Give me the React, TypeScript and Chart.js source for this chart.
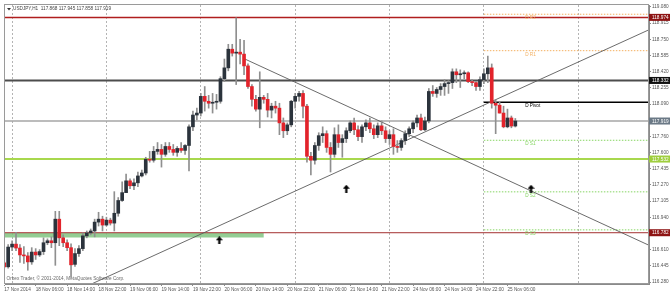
import React, { useEffect, useRef } from "react";
import { Chart, registerables } from "chart.js";

Chart.register(...registerables);

// ---- candle data (USDJPY H1, 17 Nov 22:00 .. 25 Nov 08:00) ----
const opens = [
  116.475, 116.435, 116.636, 116.666, 116.626, 116.556, 116.546, 116.485, 116.585, 116.556,
  116.59, 116.68, 116.70, 116.68, 116.92, 116.73, 116.68, 116.63, 116.46, 116.57,
  116.62, 116.75, 116.78, 116.80, 116.89, 116.92, 116.86, 116.91, 116.88, 116.98,
  117.11, 117.19, 117.31, 117.26, 117.29, 117.36, 117.39, 117.53, 117.52, 117.61,
  117.63, 117.58, 117.66, 117.63, 117.60, 117.64, 117.62, 117.67, 117.86, 117.98,
  118.00, 118.17, 118.12, 118.10, 118.11, 118.12, 118.35, 118.46, 118.65, 118.61,
  118.62, 118.60, 118.48, 118.27, 118.14, 118.04, 118.16, 118.14, 118.03, 118.07,
  118.05, 117.90, 117.82, 117.88, 118.12, 118.17, 118.20, 118.07, 117.56, 117.52,
  117.67, 117.77, 117.79, 117.65, 117.58, 117.78, 117.70, 117.74, 117.82, 117.90,
  117.83, 117.76, 117.86, 117.90, 117.84, 117.78, 117.87, 117.82, 117.74, 117.78,
  117.66, 117.65, 117.72, 117.79, 117.84, 117.90, 117.95, 117.83, 117.92, 118.22,
  118.20, 118.24, 118.27, 118.30, 118.31, 118.42, 118.39, 118.40, 118.41, 118.32,
  118.31, 118.27, 118.34, 118.40, 118.46, 118.10, 118.08, 118.00, 117.86, 117.95,
  117.868,
];
const highs = [
  116.49, 116.66, 116.70, 116.785, 116.66, 116.64, 116.58, 116.63, 116.62, 116.61,
  116.73, 116.72, 116.74, 117.00, 117.00, 116.76, 116.71, 116.67, 116.62, 116.65,
  116.78, 116.80, 116.82, 116.92, 116.99, 116.95, 116.94, 116.93, 117.20, 117.14,
  117.30, 117.38, 117.33, 117.33, 117.40, 117.42, 117.55, 117.61, 117.66, 117.70,
  117.68, 117.70, 117.70, 117.68, 117.66, 117.70, 117.68, 117.88, 118.02, 118.05,
  118.20, 118.27, 118.18, 118.20, 118.19, 118.37, 118.55, 118.70, 118.70, 118.97,
  118.75, 118.74, 118.50, 118.29, 118.18, 118.42, 118.18, 118.20, 118.10, 118.12,
  118.10, 117.95, 117.90, 118.13, 118.20, 118.22, 118.23, 118.09, 117.60, 117.70,
  117.80, 117.86, 117.82, 117.70, 117.85, 117.88, 117.78, 117.85, 117.92, 117.95,
  117.87, 117.88, 117.93, 117.95, 117.88, 117.90, 117.92, 117.86, 117.82, 117.84,
  117.72, 117.74, 117.82, 117.86, 117.92, 117.98, 117.99, 117.96, 118.25, 118.28,
  118.26, 118.30, 118.34, 118.33, 118.45, 118.45, 118.44, 118.43, 118.42, 118.34,
  118.32, 118.37, 118.45, 118.58, 118.50, 118.14, 118.12, 118.07, 118.04, 117.97,
  117.945,
];
const lows = [
  116.42, 116.42, 116.60, 116.60, 116.48, 116.47, 116.40, 116.46, 116.51, 116.54,
  116.56, 116.66, 116.63, 116.45, 116.65, 116.64, 116.60, 116.33, 116.44, 116.54,
  116.60, 116.73, 116.76, 116.74, 116.85, 116.80, 116.85, 116.86, 116.80, 116.95,
  117.10, 117.19, 117.23, 117.22, 117.25, 117.35, 117.37, 117.50, 117.50, 117.58,
  117.45, 117.56, 117.60, 117.57, 117.56, 117.60, 117.58, 117.41, 117.82, 117.93,
  117.97, 118.02, 118.05, 118.00, 118.04, 118.10, 118.32, 118.43, 118.58, 118.29,
  118.50, 118.39, 118.25, 118.07, 118.02, 117.85, 118.10, 117.96, 117.95, 118.00,
  117.78, 117.75, 117.78, 117.86, 118.05, 118.12, 117.95, 117.50, 117.37, 117.48,
  117.62, 117.70, 117.60, 117.40, 117.55, 117.65, 117.55, 117.70, 117.80, 117.78,
  117.72, 117.70, 117.82, 117.80, 117.74, 117.75, 117.78, 117.70, 117.68, 117.58,
  117.60, 117.62, 117.68, 117.76, 117.80, 117.86, 117.82, 117.82, 117.90, 118.17,
  118.16, 118.18, 118.18, 118.20, 118.25, 118.31, 118.26, 118.35, 118.31, 118.28,
  118.23, 118.23, 118.30, 118.31, 118.05, 117.79, 118.00, 117.85, 117.85, 117.85,
  117.858,
];
const closes = [
  116.435, 116.636, 116.666, 116.626, 116.556, 116.546, 116.485, 116.585, 116.556, 116.59,
  116.68, 116.70, 116.68, 116.92, 116.73, 116.68, 116.63, 116.455, 116.57, 116.62,
  116.75, 116.78, 116.80, 116.89, 116.92, 116.86, 116.91, 116.88, 116.98, 117.11,
  117.19, 117.31, 117.26, 117.29, 117.36, 117.39, 117.53, 117.52, 117.61, 117.63,
  117.58, 117.66, 117.63, 117.60, 117.64, 117.62, 117.67, 117.86, 117.98, 118.00,
  118.17, 118.12, 118.10, 118.11, 118.12, 118.35, 118.46, 118.65, 118.61, 118.62,
  118.60, 118.48, 118.27, 118.14, 118.04, 118.16, 118.14, 118.03, 118.07, 118.05,
  117.90, 117.82, 117.88, 118.12, 118.17, 118.20, 118.07, 117.56, 117.52, 117.67,
  117.77, 117.79, 117.65, 117.58, 117.78, 117.70, 117.74, 117.82, 117.90, 117.83,
  117.76, 117.86, 117.90, 117.84, 117.78, 117.87, 117.82, 117.74, 117.78, 117.66,
  117.65, 117.72, 117.79, 117.84, 117.90, 117.95, 117.83, 117.92, 118.22, 118.20,
  118.24, 118.27, 118.30, 118.31, 118.42, 118.39, 118.40, 118.41, 118.32, 118.31,
  118.27, 118.34, 118.40, 118.46, 118.10, 118.08, 118.00, 117.86, 117.95, 117.868,
  117.919,
];

// ---- axes ----
const xMin = 0.2;
const xMax = 164;
const xTickIdx = [0, 8, 16, 24, 32, 40, 48, 56, 64, 72, 80, 88, 96, 104, 112, 120, 128];
const xTickLabels = [
  "17 Nov 2014", "18 Nov 06:00", "18 Nov 14:00", "18 Nov 22:00", "19 Nov 06:00",
  "19 Nov 14:00", "19 Nov 22:00", "20 Nov 06:00", "20 Nov 14:00", "20 Nov 22:00",
  "21 Nov 06:00", "21 Nov 14:00", "21 Nov 22:00", "24 Nov 06:00", "24 Nov 14:00",
  "24 Nov 22:00", "25 Nov 06:00",
];
const daySeparators = [2, 26, 50, 74, 98, 122, 146];
const yMin = 116.26;
const yMax = 119.1;
const priceTicks = [
  119.08, 118.915, 118.751, 118.586, 118.421, 118.256, 118.092, 117.927, 117.762,
  117.598, 117.433, 117.268, 117.104, 116.939, 116.774, 116.609, 116.445, 116.28,
];
const priceTickLabels = [
  "119.080", "118.915", "118.750", "118.585", "118.420", "118.255", "118.090", "117.925", "117.760",
  "117.600", "117.435", "117.270", "117.105", "116.940", "116.775", "116.610", "116.445", "116.280",
];

// ---- horizontal levels ----
const levelValues = [118.974, 118.332, 117.919, 117.532, 116.782];
const levelLabels = ["118.974", "118.332", "117.919", "117.532", "116.782"];
const levelLineColors = ["#b01e1e", "#4d4d4d", "#a6a6a6", "#a8d84e", "#a33030"];
const levelBoxColors = ["#8e1414", "#101010", "#6b7986", "#9fce3e", "#8e1414"];
const levelWidths = [1.5, 2, 1.5, 2, 1];

const zoneValue = [116.757];
const zoneRange = [-1, 66];

// ---- daily pivots ----
const pivotNames = ["D R2", "D R1", "D Pivot", "D S1", "D S2", "D S3"];
const pivotValues = [119.006, 118.635, 118.11, 117.723, 117.198, 116.811];
const pivotColors = ["#f3b061", "#f3b061", "#000000", "#86d562", "#86d562", "#86d562"];
const pivotStart = 122;
const pivotLabelAt = 132.5;

// ---- trend lines ----
const upTrendX = [20, 164];
const upTrendY = [116.22, 118.848];
const downTrendX = [61, 164];
const downTrendY = [118.554, 116.654];

// ---- arrows ----
const arrowX = [54.7, 87, 134];
const arrowY = [116.705, 117.23, 117.23];

const titleText = "USDJPY,H1  117.868 117.945 117.858 117.919";
const copyrightText = "Orbex Trader, \u00a9 2001-2014, MetaQuotes Software Corp.";

const FONT = "'Liberation Sans', Arial, sans-serif";
const FS = 4.7;

function makeArrow(): HTMLCanvasElement {
  const c = document.createElement("canvas");
  c.width = 7;
  c.height = 8;
  const g = c.getContext("2d")!;
  g.fillStyle = "#000";
  g.beginPath();
  g.moveTo(3.5, 0);
  g.lineTo(7, 4);
  g.lineTo(4.6, 4);
  g.lineTo(4.6, 8);
  g.lineTo(2.4, 8);
  g.lineTo(2.4, 4);
  g.lineTo(0, 4);
  g.closePath();
  g.fill();
  return c;
}

const overlayPlugin = {
  id: "mtOverlay",
  afterDraw(chart: any) {
    const { ctx, chartArea: a, scales } = chart;
    const ys = scales.y;
    const xs = scales.x;
    ctx.save();
    // frame
    ctx.strokeStyle = "#9a9a9a";
    ctx.lineWidth = 1;
    ctx.strokeRect(a.left - 0.5, a.top - 0.5, a.right - a.left, a.bottom - a.top);
    // title
    ctx.fillStyle = "#333";
    ctx.beginPath();
    ctx.moveTo(a.left + 2, a.top + 3);
    ctx.lineTo(a.left + 6, a.top + 3);
    ctx.lineTo(a.left + 4, a.top + 5.5);
    ctx.closePath();
    ctx.fill();
    ctx.font = `${FS}px ${FONT}`;
    ctx.textBaseline = "middle";
    ctx.textAlign = "left";
    ctx.fillStyle = "#444";
    ctx.fillText(titleText, a.left + 8, a.top + 3.5);
    // copyright
    ctx.fillStyle = "#666";
    ctx.fillText(copyrightText, a.left + 1.5, a.bottom - 5);
    // pivot labels
    pivotNames.forEach((n, k) => {
      ctx.fillStyle = pivotColors[k];
      ctx.fillText(n, xs.getPixelForValue(pivotLabelAt), ys.getPixelForValue(pivotValues[k]) + 3.8);
    });
    // right axis boxes
    levelValues.forEach((v, k) => {
      const y = ys.getPixelForValue(v);
      ctx.fillStyle = levelBoxColors[k];
      ctx.fillRect(a.right, y - 3.5, chart.width - a.right, 7);
      ctx.fillStyle = "#fff";
      ctx.fillText(levelLabels[k], a.right + 3, y + 0.3);
    });
    ctx.restore();
  },
};

export default function App() {
  const ref = useRef<HTMLCanvasElement | null>(null);

  useEffect(() => {
    if (!ref.current) return;
    const idx = opens.map((_, i) => i);
    const arrow = makeArrow();

    const hLine = (v: number, x0: number, x1: number, color: string, width: number, dash: number[] = [], order = 6) => ({
      type: "line" as const,
      data: [
        { x: x0, y: v },
        { x: x1, y: v },
      ],
      borderColor: color,
      borderWidth: width,
      borderDash: dash,
      pointRadius: 0,
      fill: false,
      xAxisID: "x",
      yAxisID: "y",
      order,
    });

    const datasets: any[] = [];
    // support zone band
    datasets.push(hLine(zoneValue[0], zoneRange[0], zoneRange[1], "rgba(128,196,128,0.85)", 4.5, [], 9));
    levelValues.forEach((v, k) => datasets.push(hLine(v, xMin - 1, xMax + 1, levelLineColors[k], levelWidths[k], [], 8)));
    pivotValues.forEach((v, k) =>
      datasets.push(hLine(v, pivotStart, xMax + 1, pivotColors[k], k === 2 ? 1.3 : 1, k === 2 ? [] : [1.5, 1.5], 7))
    );
    datasets.push({
      type: "line",
      data: upTrendX.map((x, k) => ({ x, y: upTrendY[k] })),
      borderColor: "#5a5a5a",
      borderWidth: 0.9,
      pointRadius: 0,
      xAxisID: "x",
      yAxisID: "y",
      order: 5,
    });
    datasets.push({
      type: "line",
      data: downTrendX.map((x, k) => ({ x, y: downTrendY[k] })),
      borderColor: "#5a5a5a",
      borderWidth: 0.9,
      pointRadius: 0,
      xAxisID: "x",
      yAxisID: "y",
      order: 5,
    });
    // wicks
    datasets.push({
      type: "bar",
      data: idx.map((i) => ({ x: i, y: [lows[i], highs[i]] })),
      backgroundColor: "#8f8f8f",
      barThickness: 1,
      grouped: false,
      borderWidth: 0,
      xAxisID: "x",
      yAxisID: "y",
      order: 2,
    });
    // bodies
    datasets.push({
      type: "bar",
      data: idx.map((i) => ({ x: i, y: [opens[i], closes[i]] })),
      backgroundColor: idx.map((i) => (closes[i] >= opens[i] ? "#2b333c" : "#e2232b")),
      barThickness: 3,
      minBarLength: 1,
      grouped: false,
      borderWidth: 0,
      xAxisID: "x",
      yAxisID: "y",
      order: 1,
    });
    // arrows
    datasets.push({
      type: "line",
      data: arrowX.map((x, k) => ({ x, y: arrowY[k] })),
      showLine: false,
      pointStyle: arrow,
      pointRadius: 4,
      xAxisID: "x",
      yAxisID: "y",
      order: 0,
    });

    const chart = new Chart(ref.current, {
      type: "bar",
      data: { datasets },
      options: {
        responsive: false,
        animation: false,
        events: [],
        layout: { padding: { left: 2, top: 3, right: 0, bottom: 0 } },
        plugins: { legend: { display: false }, tooltip: { enabled: false }, title: { display: false } },
        scales: {
          x: {
            type: "linear",
            position: "bottom",
            min: xMin,
            max: xMax,
            offset: false,
            afterBuildTicks: (s: any) => {
              s.ticks = xTickIdx.map((v) => ({ value: v }));
            },
            afterFit: (s: any) => {
              s.height = 9;
            },
            ticks: {
              autoSkip: false,
              maxRotation: 0,
              align: "start",
              padding: 1,
              color: "#555",
              font: { size: FS, family: FONT },
              callback: (_v: any, i: number) => xTickLabels[i],
            },
            grid: { drawOnChartArea: false, tickLength: 2, color: "#8a8a8a", offset: false },
            border: { display: true, color: "#8a8a8a" },
          },
          xSep: {
            type: "linear",
            axis: "x",
            position: "top",
            min: xMin,
            max: xMax,
            offset: false,
            afterBuildTicks: (s: any) => {
              s.ticks = daySeparators.map((v) => ({ value: v }));
            },
            afterFit: (s: any) => {
              s.height = 0;
            },
            ticks: { display: false },
            grid: { drawTicks: false, color: "#b4b4b4", lineWidth: 1, offset: false },
            border: { display: false, dash: [2, 2] },
          },
          y: {
            type: "linear",
            position: "right",
            min: yMin,
            max: yMax,
            afterBuildTicks: (s: any) => {
              s.ticks = priceTicks.map((v) => ({ value: v }));
            },
            afterFit: (s: any) => {
              s.width = 21;
            },
            ticks: {
              autoSkip: false,
              padding: 1,
              color: "#555",
              font: { size: FS, family: FONT },
              callback: (_v: any, i: number) => priceTickLabels[i],
            },
            grid: { drawOnChartArea: false, tickLength: 2, color: "#8a8a8a" },
            border: { display: true, color: "#8a8a8a" },
          },
        },
      } as any,
      plugins: [overlayPlugin],
    });
    return () => chart.destroy();
  }, []);

  return (
    <div style={{ width: 670, height: 293, position: "relative", background: "#fff" }}>
      <style>{`html,body{margin:0;padding:0;background:#fff}`}</style>
      <canvas ref={ref} width={670} height={293} style={{ display: "block" }} />
    </div>
  );
}
